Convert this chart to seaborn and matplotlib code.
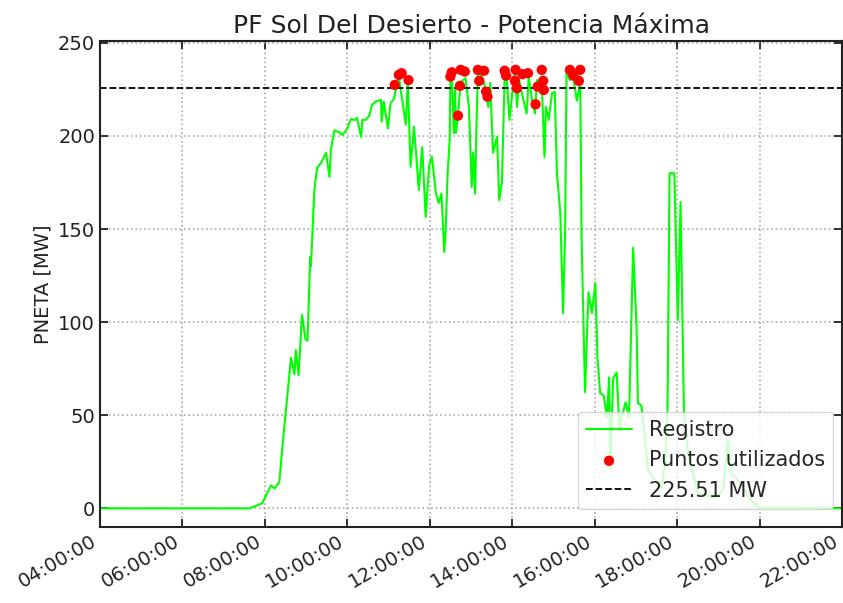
import matplotlib
matplotlib.use("Agg")
import matplotlib.pyplot as plt
import matplotlib.dates as mdates
import seaborn as sns
import pandas as pd

# Registro de potencia neta (hora, MW)
hora = ["04:00", "07:38", "07:56", "08:09", "08:14", "08:21", "08:25", "08:31", "08:38", "08:43",
        "08:45", "08:49", "08:54", "08:59", "09:02", "09:06", "09:07", "09:12", "09:16", "09:22",
        "09:29", "09:34", "09:36", "09:41", "09:48", "09:53", "10:00", "10:05", "10:11", "10:14",
        "10:20", "10:22", "10:27", "10:32", "10:36", "10:41", "10:49", "10:50", "10:53", "10:59",
        "11:03", "11:08", "11:12", "11:15", "11:20", "11:25", "11:28", "11:32", "11:37", "11:40",
        "11:44", "11:49", "11:54", "11:59", "12:03", "12:09", "12:13", "12:17", "12:21", "12:23",
        "12:26", "12:29", "12:30", "12:32", "12:35", "12:37", "12:38", "12:41", "12:45", "12:52",
        "12:57", "13:01", "13:03", "13:06", "13:08", "13:10", "13:16", "13:21", "13:25", "13:28",
        "13:32", "13:38", "13:41", "13:45", "13:49", "13:52", "13:56", "14:00", "14:04", "14:07",
        "14:10", "14:14", "14:21", "14:24", "14:29", "14:33", "14:36", "14:41", "14:43", "14:47",
        "14:49", "14:53", "14:58", "15:02", "15:05", "15:10", "15:14", "15:17", "15:19", "15:24",
        "15:28", "15:34", "15:39", "15:41", "15:46", "15:51", "15:56", "16:01", "16:04", "16:08",
        "16:13", "16:18", "16:21", "16:23", "16:25", "16:27", "16:32", "16:36", "16:45", "16:50",
        "16:56", "17:01", "17:03", "17:08", "17:18", "17:37", "17:42", "17:46", "17:49", "17:56",
        "18:01", "18:05", "18:10", "18:16", "18:30", "18:55", "19:07", "19:14", "19:19", "19:29",
        "19:48", "19:58", "22:00"]
pneta = [0, 0, 2.7, 12.4, 10.7, 14, 31, 54, 81, 72,
         85, 71.5, 104, 91, 90, 135, 130, 171, 183, 185.6,
         191, 178, 192.5, 203, 202, 200.5, 204, 209, 208.6, 209.7,
         199.5, 208.6, 208.6, 211, 216.7, 218.5, 219.4, 207.7, 218.5, 204,
         217.7, 220, 228, 232, 219, 206, 230, 183.5, 205, 191,
         171, 194, 156.5, 184, 189, 169, 164, 169, 137.6, 148,
         180, 198, 232, 234, 201.6, 224.7, 201.6, 211, 229, 231,
         215.6, 172.6, 191, 169, 207, 234, 232, 226, 215.6, 228.5,
         191, 199.5, 165.6, 174.7, 231.7, 230, 208.6, 223, 234, 215.6,
         230, 223, 212, 231.7, 219, 212, 230, 223, 228.5, 188.7,
         215.6, 208.6, 223, 223.7, 180, 158.6, 104.8, 148, 234, 230,
         234, 219, 228.5, 144, 62.4, 116, 105, 121, 81, 61.8,
         60.8, 49, 70.4, 22, 49, 70, 73, 43.5, 57, 49,
         140, 97, 56.5, 55.4, 20, 11, 22, 51, 180, 180,
         101, 164.5, 51, 29.6, 8, 6, 9.7, 36.6, 18.8, 15,
         4.3, 0.5, 0]

# Puntos utilizados para el cálculo
puntos_hora = ["11:09", "11:15", "11:19", "11:29", "12:30", "12:32", "12:41", "12:44", "12:45", "12:51",
               "13:10", "13:12", "13:19", "13:22", "13:24", "13:49", "13:51", "14:04", "14:05", "14:07",
               "14:15", "14:23", "14:34", "14:37", "14:43", "14:45", "14:46", "15:24", "15:29", "15:37",
               "15:39"]
puntos_valor = [227.4, 232.8, 233.7, 230, 231.9, 234.2, 210.9, 226.9, 235.5, 234.6,
                235.5, 229.6, 235, 223.8, 221.1, 235, 232.4, 229.6, 235.5, 225.6,
                233.2, 233.7, 217, 226.5, 235.5, 229.6, 224.7, 235.5, 232.4, 229.6,
                235.5]

p_max = 225.51

dia = "2024-01-01 "
df = pd.DataFrame({"Hora": pd.to_datetime([dia + h for h in hora]), "PNETA": pneta})
df_pts = pd.DataFrame({"Hora": pd.to_datetime([dia + h for h in puntos_hora]), "PNETA": puntos_valor})

sns.set_style("ticks")
plt.rcParams["font.family"] = ["DejaVu Sans"]

fig = plt.figure(figsize=(8.43, 6.03), dpi=100)
ax = fig.add_axes([100 / 843, 76 / 603, 742 / 843, 486 / 603])

sns.lineplot(data=df, x="Hora", y="PNETA", color="#00ff00", linewidth=1.5,
             label="Registro", ax=ax, zorder=2)
sns.scatterplot(data=df_pts, x="Hora", y="PNETA", color="red", s=55, edgecolor="none",
                label="Puntos utilizados", ax=ax, zorder=3)
ax.axhline(p_max, color="black", linestyle="--", linewidth=1.3, label=f"{p_max} MW", zorder=2)

ax.set_xlim(pd.Timestamp(dia + "04:00"), pd.Timestamp(dia + "22:00"))
ax.set_ylim(-10, 251)
ax.set_yticks([0, 50, 100, 150, 200, 250])
ax.xaxis.set_major_locator(mdates.HourLocator(byhour=range(4, 23, 2)))
ax.xaxis.set_major_formatter(mdates.DateFormatter("%H:%M:%S"))
plt.setp(ax.get_xticklabels(), rotation=30, ha="right")

ax.tick_params(direction="in", top=True, right=True, length=6, width=1.3,
               labelsize=14, colors="#222222", labelcolor="#222222")
for s in ax.spines.values():
    s.set_linewidth(1.5)
    s.set_color("#222222")
ax.grid(True, linestyle=":", color="#aaaaaa", linewidth=1.2)

ax.set_title("PF Sol Del Desierto - Potencia Máxima", fontsize=18, color="#222222", pad=6)
ax.set_xlabel("")
ax.set_ylabel("PNETA [MW]", fontsize=14, color="#222222")

ax.legend(loc="lower right", bbox_to_anchor=(0.988, 0.037), borderaxespad=0,
          fontsize=15, handlelength=2.2, framealpha=0.8, edgecolor="#cccccc")

fig.savefig("out.png", dpi=100)
